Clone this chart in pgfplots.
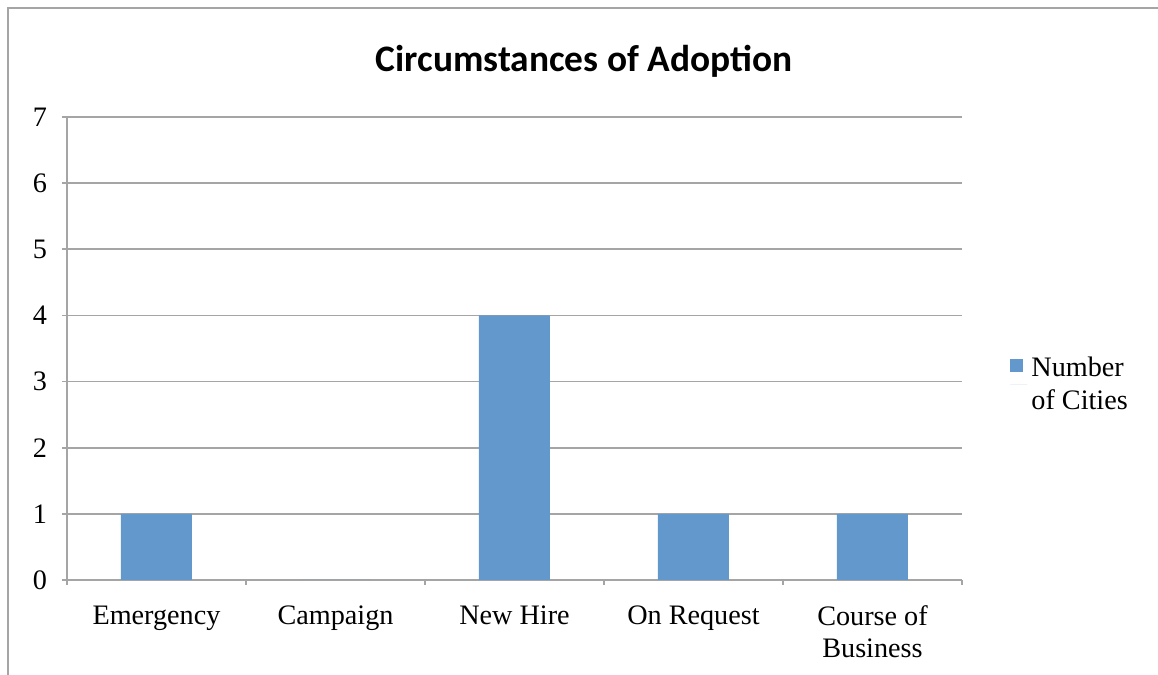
\documentclass[border=0pt]{standalone}
\usepackage{pgfplots}
\pgfplotsset{compat=1.18}
\usepackage{fontspec}
\setmainfont{Liberation Serif}
\newfontfamily\titlefont{Carlito}
\definecolor{barblue}{RGB}{98,152,203}
\definecolor{linegray}{RGB}{165,165,165}

\begin{document}
\begin{tikzpicture}
% 1px of the reference = 0.5pt
\useasboundingbox (0,0) rectangle (579pt,337.5pt);
\draw[linegray, line width=0.8pt] (4pt,-5pt) -- (4pt,333.5pt) -- (590pt,333.5pt);
\node[font=\titlefont\bfseries\fontsize{18.7}{21}\selectfont] at (292pt,307pt) {Circumstances of Adoption};

\begin{axis}[
    at={(33.5pt,47.5pt)}, anchor=south west,
    scale only axis,
    width=447.5pt, height=231.5pt,
    xmin=-0.5, xmax=4.5,
    ymin=0, ymax=7,
    ytick={0,...,7},
    xtick={0,...,4},
    xticklabels={Emergency, Campaign, New Hire, On Request, {Course of\\Business}},
    minor xtick={-0.5,0.5,...,4.5},
    major x tick style={draw=none},
    tick align=outside,
    major tick length=2.5pt,
    minor tick length=2.5pt,
    tick style={linegray, line width=0.8pt},
    axis x line*=bottom,
    axis y line*=left,
    axis line style={linegray, line width=0.8pt, -},
    ymajorgrids=true,
    grid style={linegray, line width=0.8pt},
    ticklabel style={font=\fontsize{14.1}{16}\selectfont},
    xticklabel style={align=center, yshift=-7pt},
    yticklabel style={xshift=-4pt},
    /pgf/number format/assume math mode=true,
    ybar, bar width=35.5pt,
    legend style={draw=none, at={(1.047,0.5)}, anchor=north west,
        font=\fontsize{14.1}{16.5}\selectfont, cells={align=left}},
    legend image code/.code={\path (0pt,0pt) -- (8.5pt,0pt);
        \fill[barblue] (0pt,6.5pt) rectangle (6.5pt,13pt);},
]
\addplot[fill=barblue, draw=none] coordinates {(0,1) (1,0) (2,4) (3,1) (4,1)};
\addlegendentry{Number\\of Cities}
\end{axis}
\end{tikzpicture}
\end{document}
